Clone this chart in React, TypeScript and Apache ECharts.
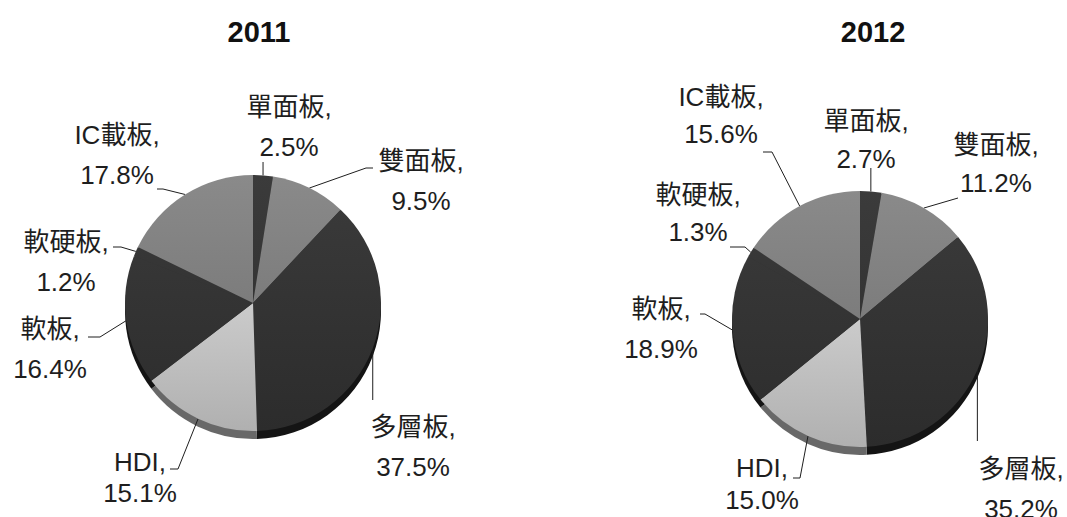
import React, { useEffect, useRef } from 'react';
import * as echarts from 'echarts';

// ---- data ----
const categories = ['單面板', '雙面板', '多層板', 'HDI', '軟板', '軟硬板', 'IC載板'];
const values2011 = [2.5, 9.5, 37.5, 15.1, 16.4, 1.2, 17.8];
const values2012 = [2.7, 11.2, 35.2, 15.0, 18.9, 1.3, 15.6];
const years = ['2011', '2012'];

// ---- styling / layout ----
const shades = ['dark', 'gray', 'dark', 'light', 'dark', 'dark', 'gray'];
const FONT = "'Liberation Sans', 'Noto Sans CJK TC', Arial, sans-serif";

const topColor: Record<string, string> = { dark: '#3b3b3b', gray: '#8a8a8a', light: '#e6e6e6' };
const botColor: Record<string, string> = { dark: '#2c2c2c', gray: '#6e6e6e', light: '#b0b0b0' };
const rimColor: Record<string, string> = { dark: '#141414', gray: '#4e4e4e', light: '#686868' };

type LabelLayout = {
  center: [number, number][]; // label centre relative to pie centre
  anchor: [number | null, number][]; // leader end relative to label centre (null x => vertical leader)
  stub: number[]; // horizontal stub at leader end
  lineHeight: number[];
};

const layout2011: LabelLayout = {
  center: [[36, -176], [168, -122], [160, 144], [-113, 174], [-203, 46], [-187, -41], [-136, -148]],
  anchor: [[null, 35], [-48, -13], [null, -47], [30, -8], [38, -12], [47, -15], [40, 34]],
  stub: [0, -7, 0, 8, 12, 8, 6],
  lineHeight: [40, 40, 40, 31, 40, 40, 40],
};

const layout2012: LabelLayout = {
  center: [[6, -179], [136, -155], [161, 170], [-98, 165], [-199, 10], [-162, -106], [-139, -204]],
  anchor: [[null, 28], [-38, 34], [null, -48], [31, -6], [39, -15], [32, 34], [42, 37]],
  stub: [0, 0, 0, 7, 5, 15, 9],
  lineHeight: [38, 38, 40, 32, 40, 37, 37],
};

function grad(s: string, cy: number, r: number) {
  return new echarts.graphic.LinearGradient(
    0,
    cy - r,
    0,
    cy + r,
    [
      { offset: 0, color: topColor[s] },
      { offset: 1, color: botColor[s] },
    ],
    true
  );
}

function buildSeries(values: number[], center: [number, number], radius: number, lay: LabelLayout) {
  const base = {
    type: 'pie',
    silent: true,
    center: [center[0], center[1] + 8],
    radius,
    startAngle: 90,
    clockwise: true,
    z: 1,
    label: { show: false },
    labelLine: { show: false },
    data: values.map((v, i) => ({ name: categories[i], value: v, itemStyle: { color: rimColor[shades[i]] } })),
  };
  // solid disc under the faces so that anti-aliased seams between slices stay dark
  const underlay = {
    type: 'pie',
    silent: true,
    center,
    radius: radius - 1,
    z: 1,
    label: { show: false },
    labelLine: { show: false },
    data: [{ name: '', value: 1, itemStyle: { color: '#303030' } }],
  };
  const main = {
    type: 'pie',
    center,
    radius,
    startAngle: 90,
    clockwise: true,
    z: 2,
    avoidLabelOverlap: false,
    itemStyle: { borderWidth: 0 },
    label: {
      show: true,
      position: 'outside',
      formatter: (p: any) => `${p.name},\n${Number(p.value).toFixed(1)}%`,
      fontFamily: FONT,
      fontSize: 26,
      lineHeight: 40,
      color: '#1e1e1e',
      align: 'center',
    },
    labelLine: { show: true, length: 12, length2: 8, lineStyle: { color: '#1e1e1e', width: 1 } },
    labelLayout: (params: any) => {
      const i = params.dataIndex;
      const lx = center[0] + lay.center[i][0];
      const ly = center[1] + lay.center[i][1];
      const p0 = params.labelLinePoints ? params.labelLinePoints[0] : [lx, ly];
      const ax = lay.anchor[i][0] === null ? p0[0] : lx + (lay.anchor[i][0] as number);
      const ay = ly + lay.anchor[i][1];
      const elbow = [ax + lay.stub[i], ay];
      return {
        x: lx,
        y: ly,
        align: 'center',
        verticalAlign: 'middle',
        hideOverlap: false,
        labelLinePoints: [p0, elbow, [ax, ay]],
      };
    },
    data: values.map((v, i) => ({
      name: categories[i],
      value: v,
      itemStyle: { color: grad(shades[i], center[1], radius) },
      label: { lineHeight: lay.lineHeight[i] },
    })),
  };
  return [base, underlay, main];
}

export default function App() {
  const ref = useRef<HTMLDivElement>(null);
  useEffect(() => {
    if (!ref.current) return;
    const chart = echarts.init(ref.current, undefined, { renderer: 'svg' });
    const titleStyle = { fontFamily: FONT, fontSize: 29, fontWeight: 'bold', color: '#111' };
    chart.setOption({
      animation: false,
      backgroundColor: '#ffffff',
      title: [
        { text: years[0], left: 254, top: 12, textAlign: 'center', textStyle: titleStyle },
        { text: years[1], left: 868, top: 12, textAlign: 'center', textStyle: titleStyle },
      ],
      series: [
        ...buildSeries(values2011, [253, 303], 128, layout2011),
        ...buildSeries(values2012, [860, 319], 128, layout2012),
      ],
    });
    return () => chart.dispose();
  }, []);
  return <div ref={ref} style={{ position: 'fixed', left: 0, top: 0, width: 1067, height: 517 }} />;
}
